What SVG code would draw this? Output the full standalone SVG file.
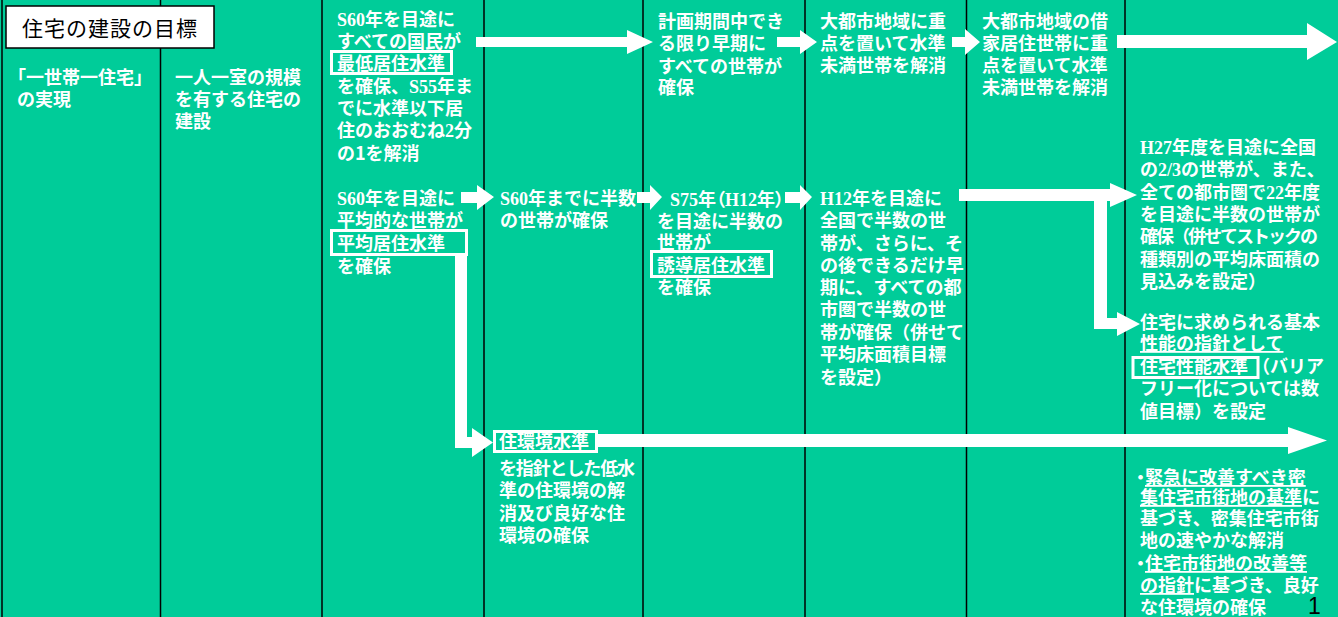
<svg xmlns="http://www.w3.org/2000/svg" width="1338" height="617" viewBox="0 0 1338 617">
<style>
.t{font-family:"Noto Sans CJK JP","Noto Sans CJK SC",sans-serif;font-size:18px;font-weight:bold;fill:#fff}
.s{font-family:"Liberation Serif",serif;font-weight:bold}
.u{text-decoration:underline}
.p{font-feature-settings:"palt"}
.col{stroke:#000;stroke-width:1.5}
.box{fill:none;stroke:#fff;stroke-width:3}
.arr{fill:#fff}
</style>
<rect width="1338" height="617" fill="#00CC99"/>
<g id="grid">
<line class="col" x1="2" y1="0" x2="2" y2="617"/>
<line class="col" x1="160.5" y1="0" x2="160.5" y2="617"/>
<line class="col" x1="322" y1="0" x2="322" y2="617"/>
<line class="col" x1="484" y1="0" x2="484" y2="617"/>
<line class="col" x1="643" y1="0" x2="643" y2="617"/>
<line class="col" x1="805" y1="0" x2="805" y2="617"/>
<line class="col" x1="966.5" y1="0" x2="966.5" y2="617"/>
<line class="col" x1="1125" y1="0" x2="1125" y2="617"/>
</g>
<g id="title">
<rect x="6" y="6" width="208" height="42" fill="#fff" stroke="#000" stroke-width="1.5"/>
<text x="22" y="36" font-family="'Noto Sans CJK JP',sans-serif" font-size="21" letter-spacing="1" fill="#000">住宅の建設の目標</text>
</g>
<g id="connectors">
<polygon class="arr" points="476,37 627,37 627,30 653,42 627,54 627,47 476,47"/>
<polygon class="arr" points="777,37 800,37 800,30 817,42 800,54 800,47 777,47"/>
<polygon class="arr" points="952,37 965,37 965,29 980,42 965,55 965,47 952,47"/>
<polygon class="arr" points="1117,35 1307,35 1307,23 1337,42 1307,60 1307,48 1117,48"/>
<polygon class="arr" points="461,192 477,192 477,185 494,197 477,210 477,203 461,203"/>
<polygon class="arr" points="637,192 650,192 650,185 662,197 650,210 650,203 637,203"/>
<polygon class="arr" points="785,192 800,192 800,185 812,197 800,210 800,203 785,203"/>
<polygon class="arr" points="959,189 1110,189 1110,183 1137,195 1110,207 1110,201 1107,201 1107,318 1117,318 1117,312 1140,324 1117,336 1117,329 1094,329 1094,201 959,201"/>
<polygon class="arr" points="455,255 467,255 467,437 472,437 472,428 493,442.5 472,457 472,448 455,448"/>
<polygon class="arr" points="598,434 1288,434 1288,427 1327,440.5 1288,454 1288,447 598,447"/>
</g>
<g id="n1">
<text class="t" x="8" y="84">「一世帯一住宅」</text>
<text class="t" x="17" y="106">の実現</text>
</g>
<g id="n2">
<text class="t" x="175" y="84">一人一室の規模</text>
<text class="t" x="175" y="106">を有する住宅の</text>
<text class="t" x="175" y="128">建設</text>
</g>
<g id="n3">
<text class="t" x="337" y="26"><tspan class="s">S60</tspan>年を目途に</text>
<text class="t" x="337" y="48">すべての国民が</text>
<rect class="box" x="331.5" y="51.5" width="120" height="22"/>
<text class="t" x="337" y="70">最低居住水準</text>
<text class="t" x="337" y="93">を確保、<tspan class="s">S55</tspan>年ま</text>
<text class="t" x="337" y="115">でに水準以下居</text>
<text class="t" x="337" y="137">住のおおむね<tspan class="s">2</tspan>分</text>
<text class="t" x="337" y="160">の1を解消</text>
</g>
<g id="n4">
<text class="t" x="337" y="205"><tspan class="s">S60</tspan>年を目途に</text>
<text class="t" x="337" y="227">平均的な世帯が</text>
<rect class="box" x="331.5" y="230.5" width="135" height="24"/>
<text class="t" x="337" y="250">平均居住水準</text>
<text class="t" x="337" y="273">を確保</text>
</g>
<g id="n5">
<text class="t" x="500" y="205"><tspan class="s">S60</tspan>年までに半数</text>
<text class="t" x="500" y="227">の世帯が確保</text>
</g>
<g id="n6">
<rect class="box" x="494.5" y="431.5" width="102" height="20"/>
<text class="t" x="499" y="448">住環境水準</text>
<text class="t" x="499" y="475" textLength="136" lengthAdjust="spacing">を指針とした低水</text>
<text class="t" x="499" y="497">準の住環境の解</text>
<text class="t" x="499" y="520">消及び良好な住</text>
<text class="t" x="499" y="542">環境の確保</text>
</g>
<g id="n7">
<text class="t" x="658" y="28">計画期間中でき</text>
<text class="t" x="658" y="50">る限り早期に</text>
<text class="t" x="658" y="73">すべての世帯が</text>
<text class="t" x="658" y="94">確保</text>
</g>
<g id="n8">
<text class="t p" x="670" y="206"><tspan class="s">S75</tspan>年（<tspan class="s">H12</tspan>年）</text>
<text class="t" x="657" y="228">を目途に半数の</text>
<text class="t" x="657" y="249">世帯が</text>
<rect class="box" x="651.5" y="251.5" width="120" height="25"/>
<text class="t" x="657" y="272">誘導居住水準</text>
<text class="t" x="657" y="294">を確保</text>
</g>
<g id="n9">
<text class="t" x="820" y="28">大都市地域に重</text>
<text class="t" x="820" y="50">点を置いて水準</text>
<text class="t" x="820" y="72">未満世帯を解消</text>
</g>
<g id="n10">
<text class="t" x="820" y="205"><tspan class="s">H12</tspan>年を目途に</text>
<text class="t" x="820" y="227">全国で半数の世</text>
<text class="t" x="820" y="250">帯が、さらに、そ</text>
<text class="t" x="820" y="272">の後できるだけ早</text>
<text class="t" x="820" y="294">期に、すべての都</text>
<text class="t" x="820" y="316">市圏で半数の世</text>
<text class="t" x="820" y="339">帯が確保（併せて</text>
<text class="t" x="820" y="361">平均床面積目標</text>
<text class="t" x="820" y="384">を設定）</text>
</g>
<g id="n11">
<text class="t" x="982" y="28">大都市地域の借</text>
<text class="t" x="982" y="50">家居住世帯に重</text>
<text class="t" x="982" y="72">点を置いて水準</text>
<text class="t" x="982" y="94">未満世帯を解消</text>
</g>
<g id="n12">
<text class="t" x="1140" y="154"><tspan class="s">H27</tspan>年度を目途に全国</text>
<text class="t" x="1140" y="176">の<tspan class="s">2/3</tspan>の世帯が、また、</text>
<text class="t" x="1140" y="199">全ての都市圏で<tspan class="s">22</tspan>年度</text>
<text class="t" x="1140" y="221">を目途に半数の世帯が</text>
<text class="t" x="1140" y="243" textLength="178" lengthAdjust="spacing">確保（併せてストックの</text>
<text class="t" x="1140" y="266">種類別の平均床面積の</text>
<text class="t" x="1140" y="288">見込みを設定）</text>
</g>
<g id="n13">
<text class="t" x="1140" y="329">住宅に求められる基本</text>
<text class="t u" x="1140" y="350">性能の指針として</text>
<rect class="box" x="1133" y="357.5" width="125" height="20"/>
<text class="t" x="1140" y="373">住宅性能水準</text>
<text class="t" x="1252" y="373">（バリア</text>
<text class="t" x="1140" y="395">フリー化については数</text>
<text class="t" x="1140" y="418">値目標）を設定</text>
</g>
<g id="n14">
<text class="t" x="1136" y="484"><tspan class="p">・</tspan><tspan class="u">緊急に改善すべき密</tspan></text>
<text class="t" x="1140" y="504"><tspan class="u">集住宅市街地の基準</tspan>に</text>
<text class="t" x="1140" y="525">基づき、密集住宅市街</text>
<text class="t" x="1140" y="547">地の速やかな解消</text>
<text class="t" x="1136" y="570"><tspan class="p">・</tspan><tspan class="u">住宅市街地の改善等</tspan></text>
<text class="t" x="1140" y="592"><tspan class="u">の指針</tspan>に基づき、良好</text>
<text class="t" x="1140" y="614">な住環境の確保</text>
</g>
<g id="page">
<text x="1308" y="614" font-family="'Liberation Sans',Arial,sans-serif" font-size="23" fill="#000">1</text>
</g>
</svg>
